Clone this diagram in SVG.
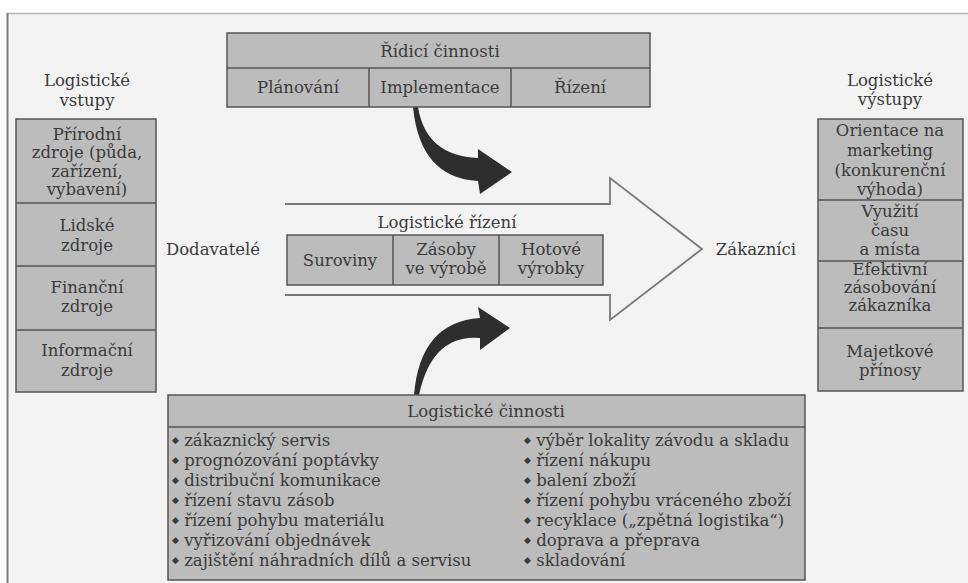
<svg xmlns="http://www.w3.org/2000/svg" width="968" height="583" viewBox="0 0 968 583">
<style>
  text { font-family: "DejaVu Serif", "Liberation Serif", serif; font-size: 16.5px; fill: #3a3a3a; }
  .c { text-anchor: middle; }
  .box { fill: #bcbcbc; stroke: #555; stroke-width: 1.5; }
  .div { stroke: #555; stroke-width: 1.5; fill: none; }
  .b { font-family: "DejaVu Sans", sans-serif; font-size: 9px; }
</style>
<rect x="0" y="0" width="968" height="583" fill="#ffffff"/>
<rect x="7" y="13" width="961" height="570" fill="#f3f3f3"/>
<line x1="7" y1="13.5" x2="968" y2="13.5" stroke="#b5b5b5" stroke-width="1.5"/>
<line x1="7.5" y1="13" x2="7.5" y2="583" stroke="#7a7a7a" stroke-width="2"/>

<g id="connectors">
  <polyline points="285,204 610,204 610,178 702,249 610,320 610,295 285,295" fill="none" stroke="#777" stroke-width="1.8"/>
  <path d="M413,107 L418,107 Q426,156 478,158 L478,149 L512,172 L480,194 L478,181 Q420,178 413,107 Z" fill="#2e2e2e"/>
  <path d="M414,395 Q420,322 480,318 L478,307 L510,328 L480,350 L480,338 Q432,334 419,395 Z" fill="#2e2e2e"/>
</g>

<g id="ridici-cinnosti">
  <rect class="box" x="227" y="33" width="423" height="74"/>
  <line class="div" x1="227" y1="68" x2="650" y2="68"/>
  <line class="div" x1="369" y1="68" x2="369" y2="107"/>
  <line class="div" x1="511" y1="68" x2="511" y2="107"/>
  <text class="c" x="440" y="57">Řídicí činnosti</text>
  <text class="c" x="298" y="93">Plánování</text>
  <text class="c" x="440" y="93">Implementace</text>
  <text class="c" x="580" y="93">Řízení</text>
</g>

<g id="logisticke-vstupy">
  <text class="c" x="87" y="86">Logistické</text>
  <text class="c" x="87" y="106">vstupy</text>
  <rect class="box" x="16" y="119" width="140" height="273"/>
  <line class="div" x1="16" y1="203" x2="156" y2="203"/>
  <line class="div" x1="16" y1="266" x2="156" y2="266"/>
  <line class="div" x1="16" y1="330" x2="156" y2="330"/>
  <text class="c" x="87" y="140">Přírodní</text>
  <text class="c" x="87" y="158">zdroje (půda,</text>
  <text class="c" x="87" y="177">zařízení,</text>
  <text class="c" x="87" y="195">vybavení)</text>
  <text class="c" x="87" y="231">Lidské</text>
  <text class="c" x="87" y="251">zdroje</text>
  <text class="c" x="87" y="293">Finanční</text>
  <text class="c" x="87" y="312">zdroje</text>
  <text class="c" x="87" y="356">Informační</text>
  <text class="c" x="87" y="376">zdroje</text>
</g>

<g id="dodavatele">
  <text class="c" x="213" y="255">Dodavatelé</text>
</g>

<g id="logisticke-rizeni">
  <text class="c" x="447" y="228">Logistické řízení</text>
  <rect class="box" x="287" y="235" width="316" height="50"/>
  <line class="div" x1="393" y1="235" x2="393" y2="285"/>
  <line class="div" x1="499" y1="235" x2="499" y2="285"/>
  <text class="c" x="340" y="266">Suroviny</text>
  <text class="c" x="446" y="255">Zásoby</text>
  <text class="c" x="446" y="274">ve výrobě</text>
  <text class="c" x="551" y="255">Hotové</text>
  <text class="c" x="551" y="274">výrobky</text>
</g>

<g id="zakaznici">
  <text class="c" x="756" y="255">Zákazníci</text>
</g>

<g id="logisticke-vystupy">
  <text class="c" x="890" y="86">Logistické</text>
  <text class="c" x="890" y="105">výstupy</text>
  <rect class="box" x="818" y="119" width="145" height="272"/>
  <line class="div" x1="818" y1="200" x2="963" y2="200"/>
  <line class="div" x1="818" y1="261" x2="963" y2="261"/>
  <line class="div" x1="818" y1="328" x2="963" y2="328"/>
  <text class="c" x="890" y="136">Orientace na</text>
  <text class="c" x="890" y="156">marketing</text>
  <text class="c" x="890" y="176">(konkurenční</text>
  <text class="c" x="890" y="195">výhoda)</text>
  <text class="c" x="890" y="217">Využití</text>
  <text class="c" x="890" y="236">času</text>
  <text class="c" x="890" y="255">a místa</text>
  <text class="c" x="890" y="275">Efektivní</text>
  <text class="c" x="890" y="293">zásobování</text>
  <text class="c" x="890" y="311">zákazníka</text>
  <text class="c" x="890" y="357">Majetkové</text>
  <text class="c" x="890" y="376">přínosy</text>
</g>

<g id="logisticke-cinnosti">
  <rect class="box" x="168" y="395" width="637" height="185"/>
  <line class="div" x1="168" y1="427" x2="805" y2="427"/>
  <text class="c" x="486" y="417">Logistické činnosti</text>
  <g>
    <text x="172" y="446"><tspan class="b" dy="-3">◆</tspan><tspan dy="3"> zákaznický servis</tspan></text>
    <text x="172" y="466"><tspan class="b" dy="-3">◆</tspan><tspan dy="3"> prognózování poptávky</tspan></text>
    <text x="172" y="486"><tspan class="b" dy="-3">◆</tspan><tspan dy="3"> distribuční komunikace</tspan></text>
    <text x="172" y="506"><tspan class="b" dy="-3">◆</tspan><tspan dy="3"> řízení stavu zásob</tspan></text>
    <text x="172" y="526"><tspan class="b" dy="-3">◆</tspan><tspan dy="3"> řízení pohybu materiálu</tspan></text>
    <text x="172" y="546"><tspan class="b" dy="-3">◆</tspan><tspan dy="3"> vyřizování objednávek</tspan></text>
    <text x="172" y="566"><tspan class="b" dy="-3">◆</tspan><tspan dy="3"> zajištění náhradních dílů a servisu</tspan></text>
  </g>
  <g>
    <text x="524" y="446"><tspan class="b" dy="-3">◆</tspan><tspan dy="3"> výběr lokality závodu a skladu</tspan></text>
    <text x="524" y="466"><tspan class="b" dy="-3">◆</tspan><tspan dy="3"> řízení nákupu</tspan></text>
    <text x="524" y="486"><tspan class="b" dy="-3">◆</tspan><tspan dy="3"> balení zboží</tspan></text>
    <text x="524" y="506"><tspan class="b" dy="-3">◆</tspan><tspan dy="3"> řízení pohybu vráceného zboží</tspan></text>
    <text x="524" y="526"><tspan class="b" dy="-3">◆</tspan><tspan dy="3"> recyklace („zpětná logistika“)</tspan></text>
    <text x="524" y="546"><tspan class="b" dy="-3">◆</tspan><tspan dy="3"> doprava a přeprava</tspan></text>
    <text x="524" y="566"><tspan class="b" dy="-3">◆</tspan><tspan dy="3"> skladování</tspan></text>
  </g>
</g>
</svg>
